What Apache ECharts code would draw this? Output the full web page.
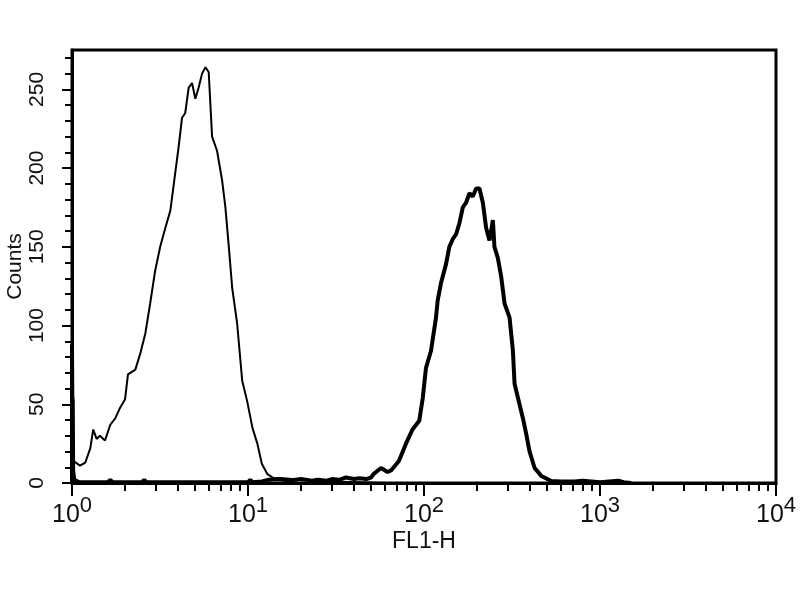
<!DOCTYPE html>
<html><head><meta charset="utf-8">
<script src="https://cdn.jsdelivr.net/npm/echarts@6/dist/echarts.min.js"></script>
<style>html,body{margin:0;padding:0;background:#fff}#c{width:800px;height:600px}</style>
</head><body><div id="c"></div>
<script>
// Control (thin line) histogram: FL1-H value, counts
const controlX = [1.02, 1.04, 1.11, 1.19, 1.27, 1.32, 1.38, 1.44, 1.54, 1.65, 1.76, 1.88, 2.00, 2.08, 2.29, 2.44, 2.61, 2.78, 2.97, 3.17, 3.39, 3.62, 3.86, 4.03, 4.22, 4.40, 4.60, 4.81, 5.02, 5.24, 5.48, 5.73, 5.98, 6.25, 6.67, 7.13, 7.44, 7.78, 8.13, 8.68, 9.27, 9.89, 10.6, 11.3, 12.0, 12.9, 14.0, 15.9, 20, 30, 60];
const controlY = [14, 13, 11, 13, 22, 34, 28, 30, 27, 37, 41, 48, 53, 69, 72, 82, 95, 114, 135, 150, 162, 173, 197, 213, 232, 235, 251, 254, 244, 251, 260, 264, 261, 220, 211, 192, 175, 150, 124, 101, 65, 52, 35, 25, 12, 5.6, 3, 3, 2, 1, 0];
// Stained (thick line) histogram
const stainedX = [1.0, 1.0, 1.004, 1.01, 1.015, 1.03, 1.1, 1.6, 1.65, 1.7, 2.5, 2.57, 2.65, 6.2, 6.3, 6.4, 8.8, 9.0, 9.2, 10.0, 10.3, 10.6, 12, 13, 15, 17, 20, 23, 25, 28, 30, 33, 36, 40, 43, 47, 50, 52, 57, 62, 65, 72, 79, 86, 94, 98.4, 102.6, 109.6, 117, 119.6, 124.9, 133.4, 139.3, 145.8, 152.2, 158.9, 166.1, 173.4, 181.2, 189.3, 197.7, 206.6, 216, 225.5, 235.6, 246.2, 251.3, 262.7, 274.6, 286.9, 306.3, 320, 327, 342, 365, 381, 398, 425, 464, 529, 600, 716, 800, 1000, 1270, 1360, 1500];
const stainedY = [0, 88, 55, 52, 8, 2, 0.5, 0.5, 2, 0.5, 0.5, 2, 0.5, 0.5, 1.5, 0.5, 0.5, 1.5, 0.5, 0.5, 2, 0.5, 1, 2, 2.5, 1.5, 2.5, 1.5, 2, 1.5, 2.5, 2, 3.5, 2.5, 3, 2.5, 3.5, 6, 9.5, 7, 8, 14, 25, 34, 39.5, 54, 73, 84, 105, 116, 127, 139, 150, 155, 158, 165, 175, 178, 184, 182, 187, 187, 178, 162, 154, 167, 150, 143, 131, 114, 105, 84, 63, 54, 41, 31, 20, 9.5, 4.5, 1.3, 1, 1, 1.5, 0.5, 1.5, 0.5, 0];
// Axis ticks and labels
const yMajorTicks = [0, 50, 100, 150, 200, 250];
const yMinorTicks = [10, 20, 30, 40, 60, 70, 80, 90, 110, 120, 130, 140, 160, 170, 180, 190, 210, 220, 230, 240, 260, 270];
const xMajorTicks = [1, 10, 100, 1000, 10000];
const xTickExponents = ['0', '1', '2', '3', '4'];
const xMinorTicks = [2,3,4,5,6,7,8,9,20,30,40,50,60,70,80,90,200,300,400,500,600,700,800,900,2000,3000,4000,5000,6000,7000,8000,9000];

const zip = (xs, ys) => xs.map((x, i) => [x, ys[i]]);
const gridBox = {left: 72, right: 24, top: 50, bottom: 117, containLabel: false, outerBoundsMode: 'none'};
const txt = '#111';

const chart = echarts.init(document.getElementById('c'), null, {renderer: 'canvas'});
chart.setOption({
  animation: false,
  backgroundColor: '#fff',
  grid: [
    Object.assign({show: true, borderColor: '#000', borderWidth: 3, backgroundColor: 'transparent'}, gridBox),
    Object.assign({show: false}, gridBox)
  ],
  xAxis: [
    {
      type: 'log', logBase: 10, min: 1, max: 10000, gridIndex: 0, position: 'bottom',
      axisLine: {show: true, lineStyle: {color: '#000', width: 3}},
      axisTick: {show: true, customValues: xMajorTicks, length: 13, lineStyle: {color: '#000', width: 2}},
      axisLabel: {
        customValues: xMajorTicks, margin: 12, color: txt,
        formatter: function (v) {
          const i = xMajorTicks.indexOf(Math.round(v));
          return '{b|10}{s|' + xTickExponents[i] + '}';
        },
        rich: {
          b: {fontSize: 25, fontFamily: 'Liberation Sans', color: txt, verticalAlign: 'bottom'},
          s: {fontSize: 22, fontFamily: 'Liberation Sans', color: txt, verticalAlign: 'bottom', padding: [0, 0, 11, 0]}
        }
      },
      splitLine: {show: false},
      name: 'FL1-H', nameLocation: 'middle', nameGap: 47, nameMoveOverlap: false,
      nameTextStyle: {fontSize: 23, fontFamily: 'Liberation Sans', color: txt}
    },
    {
      type: 'log', logBase: 10, min: 1, max: 10000, gridIndex: 1, position: 'bottom',
      axisLine: {show: false},
      axisTick: {show: true, customValues: xMinorTicks, length: 8, lineStyle: {color: '#000', width: 2}},
      axisLabel: {show: false},
      splitLine: {show: false}
    }
  ],
  yAxis: [
    {
      type: 'value', min: 0, max: 275, gridIndex: 0, position: 'left',
      axisLine: {show: true, lineStyle: {color: '#000', width: 3}},
      axisTick: {show: true, customValues: yMajorTicks, length: 10, lineStyle: {color: '#000', width: 2}},
      axisLabel: {customValues: yMajorTicks, rotate: 90, margin: 24, fontSize: 21, fontFamily: 'Liberation Sans', color: txt},
      splitLine: {show: false},
      name: 'Counts', nameLocation: 'middle', nameRotate: 90, nameGap: 46, nameMoveOverlap: false,
      nameTextStyle: {fontSize: 21, fontFamily: 'Liberation Sans', color: txt}
    },
    {
      type: 'value', min: 0, max: 275, gridIndex: 1, position: 'left',
      axisLine: {show: false},
      axisTick: {show: true, customValues: yMinorTicks, length: 7, lineStyle: {color: '#000', width: 2}},
      axisLabel: {show: false},
      splitLine: {show: false}
    }
  ],
  series: [
    {
      name: 'Control', type: 'line', xAxisIndex: 0, yAxisIndex: 0,
      data: zip(controlX, controlY), showSymbol: false, symbol: 'none',
      lineStyle: {color: '#000', width: 2}, z: 3
    },
    {
      name: 'Stained', type: 'line', xAxisIndex: 0, yAxisIndex: 0,
      data: zip(stainedX, stainedY), showSymbol: false, symbol: 'none',
      lineStyle: {color: '#000', width: 4}, z: 4
    }
  ]
});
</script></body></html>
